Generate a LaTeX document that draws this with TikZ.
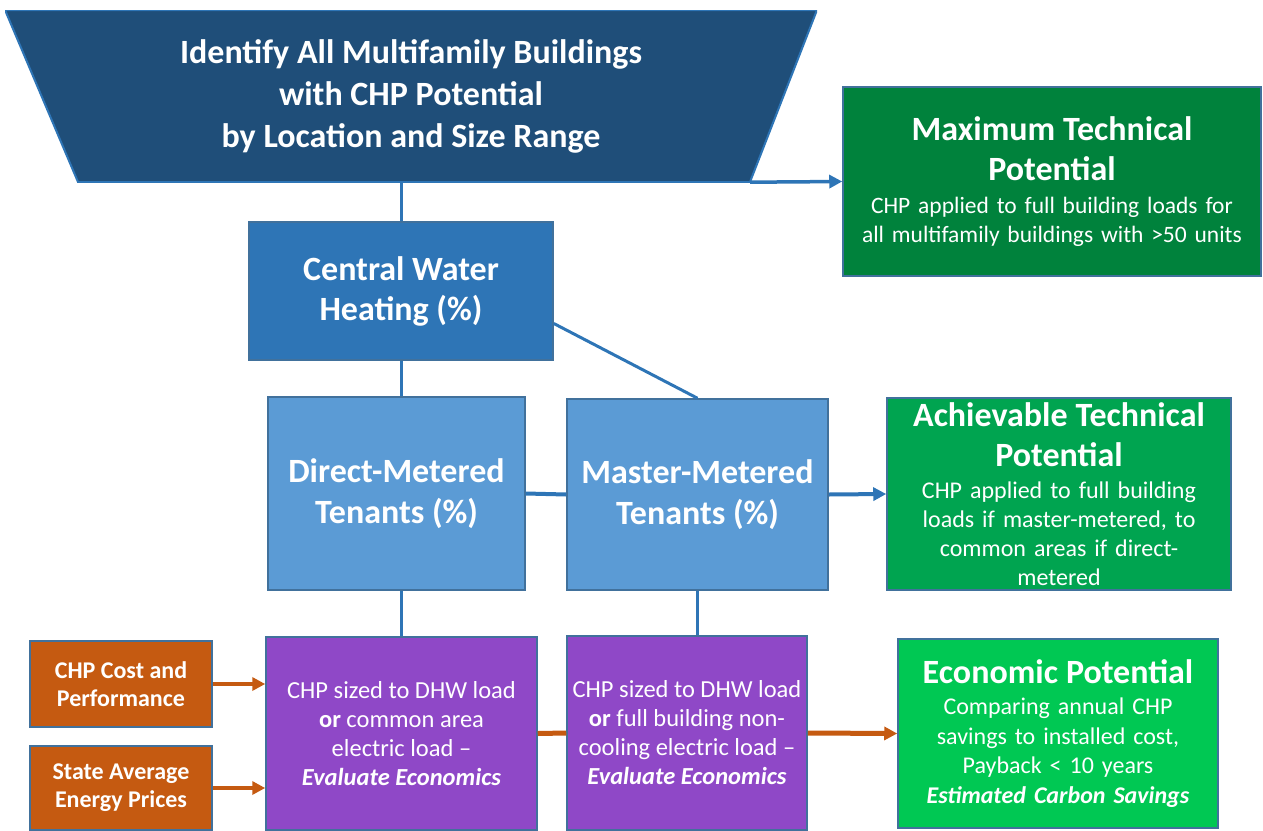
\documentclass[tikz,border=0pt]{standalone}
\usepackage{fontspec}
\setmainfont{Carlito}
\usepackage{tikz}
\usetikzlibrary{arrows.meta}

\definecolor{navy}{RGB}{31,78,121}
\definecolor{midblue}{RGB}{46,117,182}
\definecolor{lightblue}{RGB}{91,155,213}
\definecolor{boxline}{RGB}{65,113,156}
\definecolor{darkgreen}{RGB}{0,130,60}
\definecolor{midgreen}{RGB}{0,164,80}
\definecolor{brightgreen}{RGB}{0,200,83}
\definecolor{violet}{RGB}{143,72,199}
\definecolor{rust}{RGB}{197,90,17}

\newcommand{\headfont}{\fontsize{34}{40}\selectfont\bfseries}

\begin{document}
\begin{tikzpicture}[x=1pt, y=-1pt]
		\tikzset{box/.style={shape=rectangle, draw=boxline, line width=1.5pt, text=white, align=center, inner sep=0pt}}
		\tikzset{link/.style={draw=midblue, line width=3pt}}
		\tikzset{edge/.style={-{Triangle[length=13pt, width=13pt]}, line width=4pt}}
		\tikzset{funnel/.style={text=white, align=center, inner sep=0pt,
				path picture={
					\fill[navy, draw=midblue, line width=2pt] (path picture bounding box.north west) -- (path picture bounding box.north east)
						-- ([xshift=-67pt]path picture bounding box.south east) -- ([xshift=73pt]path picture bounding box.south west) -- cycle;}}}
		\useasboundingbox (0,0) rectangle (1263,830);
					%boxes
					\node[funnel, minimum width=812pt, minimum height=172pt, font=\fontsize{34}{42}\selectfont\bfseries] (ident) at (411,96)
						{Identify All Multifamily Buildings\\with CHP Potential\\by Location and Size Range};
					\node[box, fill=darkgreen, minimum width=418pt, minimum height=189pt, text width=410pt, font=\fontsize{23.5}{29}\selectfont] (maxtech) at (1052,181.5)
						{{\headfont Maximum Technical\\Potential\par}\vspace{4pt}CHP applied to full building loads for\\all multifamily buildings with >50 units\par};
					\node[box, fill=midblue, minimum width=304pt, minimum height=138pt, font=\headfont] (cwh) at (401,291)
						{Central Water\\Heating (\%)};
					\node[box, fill=lightblue, minimum width=257pt, minimum height=193pt, font=\fontsize{34}{41}\selectfont\bfseries] (direct) at (396.5,493.5)
						{Direct-Metered\\Tenants (\%)};
					\node[box, fill=lightblue, minimum width=261pt, minimum height=191pt, font=\fontsize{34}{41}\selectfont\bfseries] (master) at (697.5,494.5)
						{Master-Metered\\Tenants (\%)};
					\node[box, fill=midgreen, minimum width=344pt, minimum height=192pt, text width=336pt, font=\fontsize{24}{29}\selectfont] (achieve) at (1059,494)
						{{\headfont Achievable Technical\\Potential\par}\vspace{3pt}CHP applied to full building\\loads if master-metered, to\\common areas if direct-\\metered\par};
					\node[box, fill=violet, minimum width=271pt, minimum height=193pt, font=\fontsize{24.5}{29}\selectfont] (sizeA) at (401.5,733.5)
						{CHP sized to DHW load\\\textbf{or} common area\\electric load --\\\textbf{\textit{Evaluate Economics}}};
					\node[box, fill=violet, minimum width=240pt, minimum height=194pt, font=\fontsize{24.5}{29}\selectfont] (sizeB) at (687,733)
						{CHP sized to DHW load\\\textbf{or} full building non-\\cooling electric load --\\\textbf{\textit{Evaluate Economics}}};
					\node[box, fill=brightgreen, minimum width=320pt, minimum height=189pt, text width=314pt, font=\fontsize{24}{29.5}\selectfont] (econ) at (1058,733.5)
						{{\headfont Economic Potential\par}\vspace{2pt}Comparing annual CHP\\savings to installed cost,\\Payback < 10 years\\\textbf{\textit{Estimated Carbon Savings}}\par};
					\node[box, fill=rust, minimum width=182pt, minimum height=86pt, font=\fontsize{24}{28}\selectfont\bfseries] (cost) at (121,684)
						{CHP Cost and\\Performance};
					\node[box, fill=rust, minimum width=182pt, minimum height=84pt, font=\fontsize{24}{28}\selectfont\bfseries] (prices) at (121,788)
						{State Average\\Energy Prices};
					%connectors
					\draw[link] (cwh.north) -- (cwh.north |- ident.south);
					\draw[link] (cwh.south) -- (cwh.south |- direct.north);
					\draw[link] (cwh.-12.6) -- (master.north);
					\draw[link, line width=4pt] (direct.east) -- (master.west);
					\draw[link] (sizeA.north) -- (sizeA.north |- direct.south);
					\draw[link] (master.south) -- (master.south |- sizeB.north);
					\draw[edge, midblue, line width=3.5pt] ([xshift=-67pt]ident.south east) -- (maxtech.west);
					\draw[edge, midblue] (master.east) -- (achieve.west);
					\draw[rust, line width=5pt] (sizeA.east) -- (sizeB.west);
					\draw[edge, rust, line width=5pt] (sizeB.east) -- (econ.west);
					\draw[edge, rust] (cost.east) -- (cost.east -| sizeA.west);
					\draw[edge, rust] (prices.east) -- (prices.east -| sizeA.west);
\end{tikzpicture}
\end{document}
